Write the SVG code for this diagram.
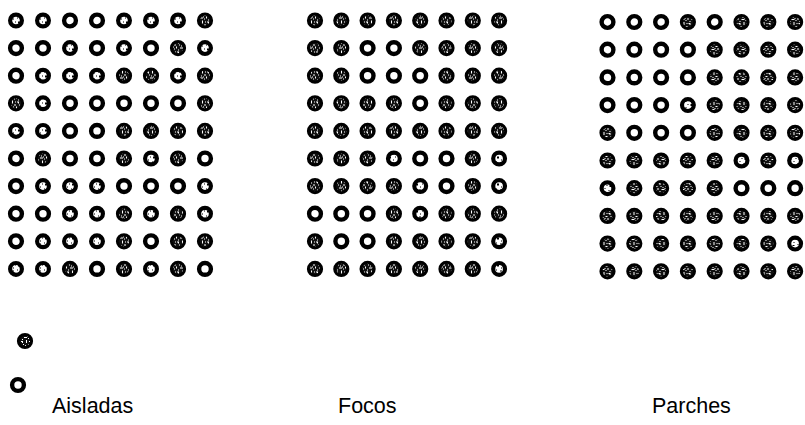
<svg xmlns="http://www.w3.org/2000/svg" width="805" height="425" viewBox="0 0 805 425">
<defs>
<pattern id="pS" width="10" height="10" patternUnits="userSpaceOnUse">
<rect width="10" height="10" fill="#111"/>
<path fill="#fff" d="M1 1h2v1h-2zM6 0h1v3h-1zM3 4h1v1h-1zM8 4h2v1h-2zM0 6h1v2h-1zM4 7h3v1h-3zM2 9h1v1h-1zM8 8h1v1h-1zM5 5h1v1h-1zM9 1h1v1h-1zM2 2h1v1h-1zM7 6h1v1h-1z"/>
</pattern>
<pattern id="pW" width="9" height="9" patternUnits="userSpaceOnUse">
<rect width="9" height="9" fill="#fff"/>
<path fill="#000" d="M2 1h2v2h-2zM6 4h1v1h-1zM1 6h1v1h-1zM5 7h2v1h-2zM8 1h1v1h-1z"/>
</pattern>
</defs>
<style>
.e{fill:#fff;stroke:#000;stroke-width:4.4;r:5.9px}
.w{fill:url(#pW);stroke:#000;stroke-width:4.2;r:5.9px}
.s{fill:url(#pS);stroke:#000;stroke-width:3;r:6.6px}
.lbl{font-family:"Liberation Sans",Arial,sans-serif;font-size:21.5px;fill:#000}
</style>
<rect width="805" height="425" fill="#fff"/>

<g id="grid-aisladas" transform="translate(16,20.5)">
<g id="a-r1"><circle class="w" cx="0" cy="0" r="5.6"/><circle class="w" cx="27" cy="0" r="5.6"/><circle class="e" cx="54" cy="0" r="5.6"/><circle class="e" cx="81" cy="0" r="5.6"/><circle class="w" cx="108" cy="0" r="5.6"/><circle class="w" cx="135" cy="0" r="5.6"/><circle class="w" cx="162" cy="0" r="5.6"/><circle class="s" cx="189" cy="0" r="6.3"/></g>
<g id="a-r2"><circle class="e" cx="0" cy="27.6" r="5.6"/><circle class="e" cx="27" cy="27.6" r="5.6"/><circle class="w" cx="54" cy="27.6" r="5.6"/><circle class="e" cx="81" cy="27.6" r="5.6"/><circle class="w" cx="108" cy="27.6" r="5.6"/><circle class="e" cx="135" cy="27.6" r="5.6"/><circle class="s" cx="162" cy="27.6" r="6.3"/><circle class="w" cx="189" cy="27.6" r="5.6"/></g>
<g id="a-r3"><circle class="e" cx="0" cy="55.2" r="5.6"/><circle class="w" cx="27" cy="55.2" r="5.6"/><circle class="w" cx="54" cy="55.2" r="5.6"/><circle class="w" cx="81" cy="55.2" r="5.6"/><circle class="s" cx="108" cy="55.2" r="6.3"/><circle class="s" cx="135" cy="55.2" r="6.3"/><circle class="w" cx="162" cy="55.2" r="5.6"/><circle class="s" cx="189" cy="55.2" r="6.3"/></g>
<g id="a-r4"><circle class="s" cx="0" cy="82.8" r="6.3"/><circle class="w" cx="27" cy="82.8" r="5.6"/><circle class="e" cx="54" cy="82.8" r="5.6"/><circle class="e" cx="81" cy="82.8" r="5.6"/><circle class="e" cx="108" cy="82.8" r="5.6"/><circle class="e" cx="135" cy="82.8" r="5.6"/><circle class="e" cx="162" cy="82.8" r="5.6"/><circle class="s" cx="189" cy="82.8" r="6.3"/></g>
<g id="a-r5"><circle class="w" cx="0" cy="110.4" r="5.6"/><circle class="w" cx="27" cy="110.4" r="5.6"/><circle class="e" cx="54" cy="110.4" r="5.6"/><circle class="e" cx="81" cy="110.4" r="5.6"/><circle class="s" cx="108" cy="110.4" r="6.3"/><circle class="s" cx="135" cy="110.4" r="6.3"/><circle class="s" cx="162" cy="110.4" r="6.3"/><circle class="s" cx="189" cy="110.4" r="6.3"/></g>
<g id="a-r6"><circle class="e" cx="0" cy="138" r="5.6"/><circle class="s" cx="27" cy="138" r="6.3"/><circle class="e" cx="54" cy="138" r="5.6"/><circle class="e" cx="81" cy="138" r="5.6"/><circle class="s" cx="108" cy="138" r="6.3"/><circle class="w" cx="135" cy="138" r="5.6"/><circle class="s" cx="162" cy="138" r="6.3"/><circle class="e" cx="189" cy="138" r="5.6"/></g>
<g id="a-r7"><circle class="e" cx="0" cy="165.6" r="5.6"/><circle class="w" cx="27" cy="165.6" r="5.6"/><circle class="w" cx="54" cy="165.6" r="5.6"/><circle class="w" cx="81" cy="165.6" r="5.6"/><circle class="e" cx="108" cy="165.6" r="5.6"/><circle class="e" cx="135" cy="165.6" r="5.6"/><circle class="e" cx="162" cy="165.6" r="5.6"/><circle class="w" cx="189" cy="165.6" r="5.6"/></g>
<g id="a-r8"><circle class="e" cx="0" cy="193.2" r="5.6"/><circle class="e" cx="27" cy="193.2" r="5.6"/><circle class="w" cx="54" cy="193.2" r="5.6"/><circle class="w" cx="81" cy="193.2" r="5.6"/><circle class="s" cx="108" cy="193.2" r="6.3"/><circle class="w" cx="135" cy="193.2" r="5.6"/><circle class="s" cx="162" cy="193.2" r="6.3"/><circle class="w" cx="189" cy="193.2" r="5.6"/></g>
<g id="a-r9"><circle class="e" cx="0" cy="220.8" r="5.6"/><circle class="w" cx="27" cy="220.8" r="5.6"/><circle class="w" cx="54" cy="220.8" r="5.6"/><circle class="w" cx="81" cy="220.8" r="5.6"/><circle class="s" cx="108" cy="220.8" r="6.3"/><circle class="e" cx="135" cy="220.8" r="5.6"/><circle class="s" cx="162" cy="220.8" r="6.3"/><circle class="s" cx="189" cy="220.8" r="6.3"/></g>
<g id="a-r10"><circle class="w" cx="0" cy="248.4" r="5.6"/><circle class="w" cx="27" cy="248.4" r="5.6"/><circle class="s" cx="54" cy="248.4" r="6.3"/><circle class="e" cx="81" cy="248.4" r="5.6"/><circle class="s" cx="108" cy="248.4" r="6.3"/><circle class="w" cx="135" cy="248.4" r="5.6"/><circle class="s" cx="162" cy="248.4" r="6.3"/><circle class="e" cx="189" cy="248.4" r="5.6"/></g>
</g>

<g id="grid-focos" transform="translate(315,20.5)">
<g id="f-r1"><circle class="s" cx="0" cy="0" r="6.3"/><circle class="s" cx="26.3" cy="0" r="6.3"/><circle class="s" cx="52.6" cy="0" r="6.3"/><circle class="s" cx="78.9" cy="0" r="6.3"/><circle class="s" cx="105.2" cy="0" r="6.3"/><circle class="s" cx="131.5" cy="0" r="6.3"/><circle class="s" cx="157.8" cy="0" r="6.3"/><circle class="s" cx="184.1" cy="0" r="6.3"/></g>
<g id="f-r2"><circle class="s" cx="0" cy="27.6" r="6.3"/><circle class="s" cx="26.3" cy="27.6" r="6.3"/><circle class="e" cx="52.6" cy="27.6" r="5.6"/><circle class="e" cx="78.9" cy="27.6" r="5.6"/><circle class="s" cx="105.2" cy="27.6" r="6.3"/><circle class="s" cx="131.5" cy="27.6" r="6.3"/><circle class="s" cx="157.8" cy="27.6" r="6.3"/><circle class="s" cx="184.1" cy="27.6" r="6.3"/></g>
<g id="f-r3"><circle class="s" cx="0" cy="55.2" r="6.3"/><circle class="s" cx="26.3" cy="55.2" r="6.3"/><circle class="e" cx="52.6" cy="55.2" r="5.6"/><circle class="e" cx="78.9" cy="55.2" r="5.6"/><circle class="e" cx="105.2" cy="55.2" r="5.6"/><circle class="s" cx="131.5" cy="55.2" r="6.3"/><circle class="s" cx="157.8" cy="55.2" r="6.3"/><circle class="s" cx="184.1" cy="55.2" r="6.3"/></g>
<g id="f-r4"><circle class="s" cx="0" cy="82.8" r="6.3"/><circle class="s" cx="26.3" cy="82.8" r="6.3"/><circle class="s" cx="52.6" cy="82.8" r="6.3"/><circle class="s" cx="78.9" cy="82.8" r="6.3"/><circle class="e" cx="105.2" cy="82.8" r="5.6"/><circle class="s" cx="131.5" cy="82.8" r="6.3"/><circle class="s" cx="157.8" cy="82.8" r="6.3"/><circle class="s" cx="184.1" cy="82.8" r="6.3"/></g>
<g id="f-r5"><circle class="s" cx="0" cy="110.4" r="6.3"/><circle class="s" cx="26.3" cy="110.4" r="6.3"/><circle class="s" cx="52.6" cy="110.4" r="6.3"/><circle class="s" cx="78.9" cy="110.4" r="6.3"/><circle class="s" cx="105.2" cy="110.4" r="6.3"/><circle class="s" cx="131.5" cy="110.4" r="6.3"/><circle class="s" cx="157.8" cy="110.4" r="6.3"/><circle class="s" cx="184.1" cy="110.4" r="6.3"/></g>
<g id="f-r6"><circle class="s" cx="0" cy="138" r="6.3"/><circle class="s" cx="26.3" cy="138" r="6.3"/><circle class="s" cx="52.6" cy="138" r="6.3"/><circle class="w" cx="78.9" cy="138" r="5.6"/><circle class="e" cx="105.2" cy="138" r="5.6"/><circle class="e" cx="131.5" cy="138" r="5.6"/><circle class="s" cx="157.8" cy="138" r="6.3"/><circle class="w" cx="184.1" cy="138" r="5.6"/></g>
<g id="f-r7"><circle class="s" cx="0" cy="165.6" r="6.3"/><circle class="s" cx="26.3" cy="165.6" r="6.3"/><circle class="s" cx="52.6" cy="165.6" r="6.3"/><circle class="s" cx="78.9" cy="165.6" r="6.3"/><circle class="w" cx="105.2" cy="165.6" r="5.6"/><circle class="e" cx="131.5" cy="165.6" r="5.6"/><circle class="s" cx="157.8" cy="165.6" r="6.3"/><circle class="w" cx="184.1" cy="165.6" r="5.6"/></g>
<g id="f-r8"><circle class="e" cx="0" cy="193.2" r="5.6"/><circle class="e" cx="26.3" cy="193.2" r="5.6"/><circle class="e" cx="52.6" cy="193.2" r="5.6"/><circle class="s" cx="78.9" cy="193.2" r="6.3"/><circle class="w" cx="105.2" cy="193.2" r="5.6"/><circle class="s" cx="131.5" cy="193.2" r="6.3"/><circle class="s" cx="157.8" cy="193.2" r="6.3"/><circle class="s" cx="184.1" cy="193.2" r="6.3"/></g>
<g id="f-r9"><circle class="s" cx="0" cy="220.8" r="6.3"/><circle class="e" cx="26.3" cy="220.8" r="5.6"/><circle class="e" cx="52.6" cy="220.8" r="5.6"/><circle class="s" cx="78.9" cy="220.8" r="6.3"/><circle class="s" cx="105.2" cy="220.8" r="6.3"/><circle class="s" cx="131.5" cy="220.8" r="6.3"/><circle class="s" cx="157.8" cy="220.8" r="6.3"/><circle class="w" cx="184.1" cy="220.8" r="5.6"/></g>
<g id="f-r10"><circle class="s" cx="0" cy="248.4" r="6.3"/><circle class="s" cx="26.3" cy="248.4" r="6.3"/><circle class="s" cx="52.6" cy="248.4" r="6.3"/><circle class="s" cx="78.9" cy="248.4" r="6.3"/><circle class="s" cx="105.2" cy="248.4" r="6.3"/><circle class="s" cx="131.5" cy="248.4" r="6.3"/><circle class="s" cx="157.8" cy="248.4" r="6.3"/><circle class="w" cx="184.1" cy="248.4" r="5.6"/></g>
</g>

<g id="grid-parches" transform="translate(607.5,22)">
<g id="p-r1"><circle class="e" cx="0" cy="0" r="5.6"/><circle class="e" cx="26.8" cy="0" r="5.6"/><circle class="e" cx="53.6" cy="0" r="5.6"/><circle class="s" cx="80.4" cy="0" r="6.3"/><circle class="e" cx="107.2" cy="0" r="5.6"/><circle class="s" cx="134" cy="0" r="6.3"/><circle class="s" cx="160.8" cy="0" r="6.3"/><circle class="s" cx="187.6" cy="0" r="6.3"/></g>
<g id="p-r2"><circle class="e" cx="0" cy="27.7" r="5.6"/><circle class="e" cx="26.8" cy="27.7" r="5.6"/><circle class="e" cx="53.6" cy="27.7" r="5.6"/><circle class="e" cx="80.4" cy="27.7" r="5.6"/><circle class="s" cx="107.2" cy="27.7" r="6.3"/><circle class="s" cx="134" cy="27.7" r="6.3"/><circle class="s" cx="160.8" cy="27.7" r="6.3"/><circle class="s" cx="187.6" cy="27.7" r="6.3"/></g>
<g id="p-r3"><circle class="e" cx="0" cy="55.4" r="5.6"/><circle class="e" cx="26.8" cy="55.4" r="5.6"/><circle class="e" cx="53.6" cy="55.4" r="5.6"/><circle class="e" cx="80.4" cy="55.4" r="5.6"/><circle class="s" cx="107.2" cy="55.4" r="6.3"/><circle class="s" cx="134" cy="55.4" r="6.3"/><circle class="s" cx="160.8" cy="55.4" r="6.3"/><circle class="s" cx="187.6" cy="55.4" r="6.3"/></g>
<g id="p-r4"><circle class="e" cx="0" cy="83.1" r="5.6"/><circle class="e" cx="26.8" cy="83.1" r="5.6"/><circle class="e" cx="53.6" cy="83.1" r="5.6"/><circle class="w" cx="80.4" cy="83.1" r="5.6"/><circle class="s" cx="107.2" cy="83.1" r="6.3"/><circle class="s" cx="134" cy="83.1" r="6.3"/><circle class="s" cx="160.8" cy="83.1" r="6.3"/><circle class="s" cx="187.6" cy="83.1" r="6.3"/></g>
<g id="p-r5"><circle class="s" cx="0" cy="110.8" r="6.3"/><circle class="e" cx="26.8" cy="110.8" r="5.6"/><circle class="e" cx="53.6" cy="110.8" r="5.6"/><circle class="e" cx="80.4" cy="110.8" r="5.6"/><circle class="s" cx="107.2" cy="110.8" r="6.3"/><circle class="s" cx="134" cy="110.8" r="6.3"/><circle class="s" cx="160.8" cy="110.8" r="6.3"/><circle class="s" cx="187.6" cy="110.8" r="6.3"/></g>
<g id="p-r6"><circle class="s" cx="0" cy="138.5" r="6.3"/><circle class="s" cx="26.8" cy="138.5" r="6.3"/><circle class="s" cx="53.6" cy="138.5" r="6.3"/><circle class="s" cx="80.4" cy="138.5" r="6.3"/><circle class="s" cx="107.2" cy="138.5" r="6.3"/><circle class="w" cx="134" cy="138.5" r="5.6"/><circle class="s" cx="160.8" cy="138.5" r="6.3"/><circle class="w" cx="187.6" cy="138.5" r="5.6"/></g>
<g id="p-r7"><circle class="w" cx="0" cy="166.2" r="5.6"/><circle class="s" cx="26.8" cy="166.2" r="6.3"/><circle class="s" cx="53.6" cy="166.2" r="6.3"/><circle class="s" cx="80.4" cy="166.2" r="6.3"/><circle class="s" cx="107.2" cy="166.2" r="6.3"/><circle class="e" cx="134" cy="166.2" r="5.6"/><circle class="e" cx="160.8" cy="166.2" r="5.6"/><circle class="e" cx="187.6" cy="166.2" r="5.6"/></g>
<g id="p-r8"><circle class="s" cx="0" cy="193.9" r="6.3"/><circle class="s" cx="26.8" cy="193.9" r="6.3"/><circle class="s" cx="53.6" cy="193.9" r="6.3"/><circle class="s" cx="80.4" cy="193.9" r="6.3"/><circle class="s" cx="107.2" cy="193.9" r="6.3"/><circle class="s" cx="134" cy="193.9" r="6.3"/><circle class="s" cx="160.8" cy="193.9" r="6.3"/><circle class="s" cx="187.6" cy="193.9" r="6.3"/></g>
<g id="p-r9"><circle class="s" cx="0" cy="221.6" r="6.3"/><circle class="s" cx="26.8" cy="221.6" r="6.3"/><circle class="s" cx="53.6" cy="221.6" r="6.3"/><circle class="s" cx="80.4" cy="221.6" r="6.3"/><circle class="s" cx="107.2" cy="221.6" r="6.3"/><circle class="s" cx="134" cy="221.6" r="6.3"/><circle class="s" cx="160.8" cy="221.6" r="6.3"/><circle class="w" cx="187.6" cy="221.6" r="5.6"/></g>
<g id="p-r10"><circle class="s" cx="0" cy="249.3" r="6.3"/><circle class="s" cx="26.8" cy="249.3" r="6.3"/><circle class="s" cx="53.6" cy="249.3" r="6.3"/><circle class="s" cx="80.4" cy="249.3" r="6.3"/><circle class="s" cx="107.2" cy="249.3" r="6.3"/><circle class="s" cx="134" cy="249.3" r="6.3"/><circle class="s" cx="160.8" cy="249.3" r="6.3"/><circle class="s" cx="187.6" cy="249.3" r="6.3"/></g>
</g>

<g id="legend">
<circle class="s" cx="25" cy="341" r="6.3"/>
<circle class="e" cx="18" cy="385" r="5.6"/>
</g>

<g id="labels">
<text class="lbl" x="52" y="413">Aisladas</text>
<text class="lbl" x="338" y="413">Focos</text>
<text class="lbl" x="652" y="413">Parches</text>
</g>
</svg>
